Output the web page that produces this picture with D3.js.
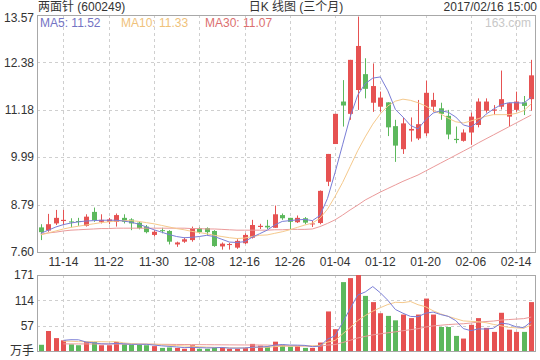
<!DOCTYPE html>
<html>
<head>
<meta charset="utf-8">
<script src="https://cdn.jsdelivr.net/npm/d3@7/dist/d3.min.js"></script>
<style>
  body { margin: 0; background: #fff; }
  svg text { font-family: 'Liberation Sans', Arial, 'Noto Sans CJK SC', sans-serif; font-size: 12px; fill: #333; }
</style>
</head>
<body>
<div id="kline-svg"></div>
<script>
// trading days shown on the chart (three months)
const dates = [
  '2016-11-09', '2016-11-10', '2016-11-11', '2016-11-14', '2016-11-15', '2016-11-16', '2016-11-17', '2016-11-18',
  '2016-11-21', '2016-11-22', '2016-11-23', '2016-11-24', '2016-11-25', '2016-11-28', '2016-11-29', '2016-11-30',
  '2016-12-01', '2016-12-02', '2016-12-05', '2016-12-06', '2016-12-07', '2016-12-08', '2016-12-09', '2016-12-12',
  '2016-12-13', '2016-12-14', '2016-12-15', '2016-12-16', '2016-12-19', '2016-12-20', '2016-12-21', '2016-12-22',
  '2016-12-23', '2016-12-26', '2016-12-27', '2016-12-28', '2016-12-29', '2016-12-30', '2017-01-03', '2017-01-04',
  '2017-01-05', '2017-01-06', '2017-01-09', '2017-01-10', '2017-01-11', '2017-01-12', '2017-01-13', '2017-01-16',
  '2017-01-17', '2017-01-18', '2017-01-19', '2017-01-20', '2017-01-23', '2017-01-24', '2017-01-25', '2017-01-26',
  '2017-02-03', '2017-02-06', '2017-02-07', '2017-02-08', '2017-02-09', '2017-02-10', '2017-02-13', '2017-02-14',
  '2017-02-15', '2017-02-16'
]

const opens = [
  8.22, 8.14, 8.32, 8.38, 8.37, 8.38, 8.26, 8.61, 8.36, 8.36, 8.36, 8.46, 8.42, 8.34, 8.24, 8.03,
  8.15, 8.13, 7.79, 7.86, 7.90, 8.20, 8.20, 8.13, 7.74, 7.78, 7.71, 7.82, 7.96, 8.23, 8.26, 8.21,
  8.53, 8.46, 8.35, 8.45, 8.30, 8.33, 9.37, 10.32, 11.39, 11.08, 11.68, 12.08, 11.36, 11.26, 11.37, 10.77,
  10.19, 10.66, 10.46, 10.59, 11.26, 11.22, 11.03, 10.45, 10.40, 10.61, 10.80, 11.16, 11.16, 11.26, 11.01, 11.18,
  11.37, 11.45
]
const highs = [
  8.30, 8.56, 8.66, 8.66, 8.45, 8.46, 8.55, 8.72, 8.55, 8.46, 8.57, 8.55, 8.45, 8.36, 8.28, 8.15,
  8.21, 8.15, 7.86, 7.96, 8.24, 8.22, 8.22, 8.15, 7.84, 7.83, 7.92, 8.07, 8.41, 8.31, 8.41, 8.77,
  8.57, 8.46, 8.52, 8.48, 8.39, 9.15, 10.07, 11.08, 11.93, 12.44, 13.53, 12.48, 12.35, 11.64, 11.37, 10.93,
  10.98, 10.99, 11.43, 11.92, 11.61, 11.36, 11.18, 10.76, 10.69, 11.11, 11.47, 11.47, 11.30, 12.17, 11.36, 11.64,
  11.53, 12.44
]
const lows = [
  7.90, 8.11, 8.28, 8.28, 8.22, 8.26, 8.24, 8.36, 8.32, 8.30, 8.24, 8.32, 8.15, 8.17, 8.07, 7.99,
  8.07, 7.79, 7.73, 7.83, 7.86, 8.07, 8.03, 7.73, 7.66, 7.66, 7.68, 7.80, 7.94, 8.18, 8.18, 8.21,
  8.41, 8.15, 8.33, 8.30, 8.23, 8.30, 9.26, 10.32, 10.76, 10.93, 11.18, 11.47, 11.13, 11.13, 10.52, 9.87,
  10.07, 10.38, 10.42, 10.52, 11.13, 10.93, 10.44, 10.34, 10.38, 10.30, 10.74, 11.11, 11.05, 11.19, 10.77, 11.13,
  11.05, 11.16
]
const closes = [
  8.10, 8.30, 8.46, 8.41, 8.35, 8.36, 8.49, 8.40, 8.41, 8.42, 8.53, 8.36, 8.32, 8.20, 8.10, 8.11,
  8.13, 7.86, 7.84, 7.92, 8.20, 8.10, 8.10, 7.75, 7.81, 7.80, 7.88, 8.03, 8.28, 8.26, 8.22, 8.55,
  8.45, 8.36, 8.46, 8.34, 8.32, 9.14, 10.07, 11.08, 11.29, 12.44, 12.79, 11.71, 11.78, 11.49, 10.74, 10.28,
  10.84, 10.70, 10.82, 11.61, 11.43, 11.08, 10.56, 10.42, 10.61, 11.01, 11.39, 11.39, 11.19, 11.45, 11.35, 11.39,
  11.28, 12.05
]

// price moving averages
const ma5 = [
  8.07, 8.15, 8.23, 8.29, 8.33, 8.36, 8.38, 8.39, 8.40, 8.40, 8.40, 8.38, 8.35, 8.30, 8.23, 8.16,
  8.10, 8.04, 7.99, 7.96, 7.97, 7.99, 8.02, 7.99, 7.92, 7.85, 7.84, 7.86, 7.97, 8.06, 8.15, 8.28,
  8.37, 8.39, 8.41, 8.42, 8.39, 8.52, 8.95, 9.60, 10.30, 11.00, 11.55, 11.84, 11.98, 12.01, 11.66, 11.19,
  11.00, 10.79, 10.70, 10.93, 11.10, 11.16, 11.12, 11.00, 10.80, 10.75, 10.88, 11.07, 11.20, 11.31, 11.36, 11.36,
  11.35, 11.50
]
const ma10 = [
  8.03, 8.08, 8.13, 8.18, 8.22, 8.25, 8.28, 8.31, 8.34, 8.36, 8.38, 8.39, 8.39, 8.37, 8.34, 8.31,
  8.27, 8.23, 8.19, 8.16, 8.12, 8.09, 8.06, 8.02, 7.99, 7.96, 7.94, 7.95, 7.99, 8.02, 8.03, 8.07,
  8.11, 8.16, 8.22, 8.28, 8.33, 8.45, 8.68, 9.00, 9.35, 9.75, 10.15, 10.50, 10.82, 11.08, 11.28, 11.40,
  11.45, 11.42, 11.36, 11.28, 11.16, 11.08, 10.97, 10.88, 10.85, 10.90, 10.96, 11.02, 11.06, 11.06, 11.06, 11.09,
  11.16, 11.33
]
const ma30 = [
  8.05, 8.08, 8.10, 8.13, 8.15, 8.16, 8.17, 8.18, 8.19, 8.19, 8.20, 8.20, 8.20, 8.20, 8.20, 8.20,
  8.20, 8.20, 8.20, 8.20, 8.19, 8.19, 8.18, 8.18, 8.17, 8.16, 8.15, 8.15, 8.15, 8.15, 8.15, 8.16,
  8.16, 8.17, 8.17, 8.17, 8.18, 8.24, 8.32, 8.41, 8.53, 8.66, 8.78, 8.91, 9.01, 9.11, 9.20, 9.29,
  9.38, 9.46, 9.54, 9.64, 9.74, 9.84, 9.94, 10.04, 10.14, 10.24, 10.35, 10.45, 10.55, 10.65, 10.75, 10.85,
  10.95, 11.05
]

// volume in 万手 and its moving averages
const volumes = [
  14, 45, 29, 24, 15, 13, 20, 20, 13, 13, 20, 15, 14, 13.5, 13, 11,
  7, 8, 7, 5, 13, 5, 5, 8, 9, 5, 5, 7, 16, 12, 10, 21,
  14, 10, 11, 7, 7, 19, 89, 49, 155, 164, 171, 124, 110, 85, 79, 69,
  82, 74, 82, 118, 82, 54, 54, 34, 28, 59, 74, 52, 43, 86, 48, 43,
  43, 110
]
const volMa5 = [
  null, null, null, 24.0, 25.4, 25.2, 20.2, 18.4, 16.2, 15.8, 17.2, 16.2, 15.0, 15.1, 15.1, 13.3,
  11.7, 10.4, 9.2, 7.6, 8.0, 7.6, 7.0, 7.2, 8.0, 6.4, 6.4, 6.8, 8.4, 9.0, 10.0, 13.2,
  14.6, 13.4, 13.2, 12.6, 9.8, 10.8, 26.6, 34.2, 63.8, 95.2, 125.8, 132.8, 145.0, 131.0, 114.0, 93.4,
  85.0, 77.8, 77.2, 85.0, 87.6, 82.0, 78.0, 68.4, 50.4, 45.8, 49.8, 49.4, 51.2, 62.8, 60.6, 54.4,
  52.6, 66.0
]
const volMa10 = [
  null, null, null, 22.0, 22.0, 21.0, 21.0, 21.0, 21.0, 20.6, 21.2, 18.2, 16.7, 15.7, 15.5, 15.3,
  14.0, 12.8, 12.2, 11.4, 10.7, 9.7, 8.8, 8.2, 7.8, 7.2, 7.0, 6.9, 7.8, 8.5, 8.2, 9.8,
  10.7, 10.9, 11.1, 11.3, 11.5, 12.7, 20.0, 23.7, 38.2, 52.5, 68.3, 79.7, 89.6, 97.4, 104.6, 109.6,
  108.9, 111.4, 104.1, 99.5, 90.5, 83.5, 77.9, 72.8, 67.7, 66.7, 65.9, 63.7, 59.8, 56.6, 53.2, 52.1,
  51.0, 58.6
]
const volMa30 = [
  null, null, null, 16.0, 16.0, 15.9, 15.9, 15.8, 15.8, 15.7, 15.7, 15.6, 15.5, 15.4, 15.3, 15.2,
  15.0, 14.9, 14.7, 14.6, 14.5, 14.3, 14.2, 14.0, 13.9, 13.8, 13.7, 13.6, 13.6, 13.5, 13.4, 12.6,
  12.1, 11.6, 11.5, 11.3, 10.8, 10.8, 13.3, 14.5, 19.0, 24.0, 29.3, 32.9, 36.2, 38.6, 41.0, 43.1,
  45.6, 47.9, 50.2, 53.9, 56.5, 58.0, 59.5, 60.5, 61.3, 63.0, 64.9, 66.3, 67.4, 69.5, 70.7, 71.8,
  72.8, 76.3
]

const priceTicks = [13.57, 12.38, 11.18, 9.99, 8.79, 7.60]
const volTicks = [171, 114, 57, 0]
const dateTicks = ['2016-11-14', '2016-11-22', '2016-11-30', '2016-12-08', '2016-12-16', '2016-12-26',
  '2017-01-04', '2017-01-12', '2017-01-20', '2017-02-06', '2017-02-14']

const WIDTH = 540
const HEIGHT = 360
const PRICE_BOX = { left: 37, right: 535, top: 15, bottom: 252 }
const VOL_BOX = { left: 37, right: 535, top: 275, bottom: 351 }

const RED = '#e65252'
const GREEN = '#5cb85c'
const MA5_COLOR = '#7a7ed6'
const MA10_COLOR = '#f5c98c'
const MA30_COLOR = '#eb9a9a'
const GRID_COLOR = '#cfcfcf'
const BORDER_COLOR = '#a8a8a8'
const BODY_WIDTH = 5

var svg = d3.select('#kline-svg')
  .append('svg')
  .attr('width', WIDTH)
  .attr('height', HEIGHT)

var xScale = d3.scaleBand()
  .domain(dates)
  .range([PRICE_BOX.left, PRICE_BOX.right])

var yPrice = d3.scaleLinear()
  .domain([7.60, 13.57])
  .range([PRICE_BOX.bottom, PRICE_BOX.top])

var yVol = d3.scaleLinear()
  .domain([0, 171])
  .range([VOL_BOX.bottom, VOL_BOX.top])

function cx (i) {
  return xScale(dates[i]) + xScale.bandwidth() / 2
}

/**
 * dashed grid + border for one panel
 */
function drawGrid (box, yScale, ticks) {
  var g = svg.append('g').attr('class', 'grid')
  g.selectAll('.hgrid')
    .data(ticks.filter(t => yScale(t) > box.top + 1 && yScale(t) < box.bottom - 1))
    .enter()
    .append('line')
    .attr('x1', box.left)
    .attr('x2', box.right)
    .attr('y1', d => Math.round(yScale(d)) + 0.5)
    .attr('y2', d => Math.round(yScale(d)) + 0.5)
    .attr('stroke', GRID_COLOR)
    .attr('stroke-dasharray', '3,3')
  g.selectAll('.vgrid')
    .data(dateTicks)
    .enter()
    .append('line')
    .attr('x1', d => Math.round(xScale(d) + xScale.bandwidth() / 2) + 0.5)
    .attr('x2', d => Math.round(xScale(d) + xScale.bandwidth() / 2) + 0.5)
    .attr('y1', box.top)
    .attr('y2', box.bottom)
    .attr('stroke', GRID_COLOR)
    .attr('stroke-dasharray', '3,3')
  svg.append('rect')
    .attr('x', box.left + 0.5)
    .attr('y', box.top + 0.5)
    .attr('width', box.right - box.left)
    .attr('height', box.bottom - box.top)
    .attr('fill', 'none')
    .attr('stroke', BORDER_COLOR)
}

drawGrid(PRICE_BOX, yPrice, priceTicks)
drawGrid(VOL_BOX, yVol, volTicks)

// price axis labels
var yAxis = svg.append('g')
  .attr('transform', 'translate(' + PRICE_BOX.left + ',0)')
  .call(d3.axisLeft(yPrice).tickValues(priceTicks).tickSize(0).tickPadding(3).tickFormat(d3.format('.2f')))
yAxis.select('.domain').remove()
yAxis.selectAll('.tick').filter(d => d === 13.57).select('text').attr('dy', '0.55em')

// volume axis labels
var vAxis = svg.append('g')
  .attr('transform', 'translate(' + VOL_BOX.left + ',0)')
  .call(d3.axisLeft(yVol).tickValues(volTicks).tickSize(0).tickPadding(3).tickFormat(d => d === 0 ? '万手' : d))
vAxis.select('.domain').remove()

// date labels
var xAxis = svg.append('g')
  .attr('transform', 'translate(0,' + PRICE_BOX.bottom + ')')
  .call(d3.axisBottom(xScale).tickValues(dateTicks).tickSize(0).tickPadding(5).tickFormat(d => d.slice(5)))
xAxis.select('.domain').remove()

// candles
var candles = svg.append('g').attr('class', 'candles')
  .selectAll('g')
  .data(dates.map((d, i) => i))
  .enter()
  .append('g')
  .attr('fill', i => closes[i] >= opens[i] ? RED : GREEN)
  .attr('stroke', i => closes[i] >= opens[i] ? RED : GREEN)

candles.append('line')
  .attr('x1', i => Math.round(cx(i)) + 0.5)
  .attr('x2', i => Math.round(cx(i)) + 0.5)
  .attr('y1', i => yPrice(highs[i]))
  .attr('y2', i => yPrice(lows[i]))

candles.append('rect')
  .attr('stroke', 'none')
  .attr('x', i => Math.round(cx(i)) + 0.5 - BODY_WIDTH / 2)
  .attr('y', i => yPrice(Math.max(opens[i], closes[i])))
  .attr('width', BODY_WIDTH)
  .attr('height', i => Math.max(1, yPrice(Math.min(opens[i], closes[i])) - yPrice(Math.max(opens[i], closes[i]))))

// volume bars
svg.append('g').attr('class', 'volume')
  .selectAll('rect')
  .data(dates.map((d, i) => i))
  .enter()
  .append('rect')
  .attr('x', i => Math.round(cx(i)) + 0.5 - BODY_WIDTH / 2)
  .attr('y', i => yVol(volumes[i]))
  .attr('width', BODY_WIDTH)
  .attr('height', i => yVol(0) - yVol(volumes[i]))
  .attr('fill', i => closes[i] >= opens[i] ? RED : GREEN)

/**
 * moving average line on a panel
 */
function drawLine (values, yScale, color) {
  var line = d3.line()
    .defined(d => d != null)
    .x((d, i) => cx(i))
    .y(d => yScale(d))
  svg.append('path')
    .datum(values)
    .attr('fill', 'none')
    .attr('stroke', color)
    .attr('stroke-width', 1)
    .attr('d', line)
}

drawLine(ma30, yPrice, MA30_COLOR)
drawLine(ma10, yPrice, MA10_COLOR)
drawLine(ma5, yPrice, MA5_COLOR)
drawLine(volMa30, yVol, MA30_COLOR)
drawLine(volMa10, yVol, MA10_COLOR)
drawLine(volMa5, yVol, MA5_COLOR)

// header
svg.append('text').attr('x', 38).attr('y', 11).text('两面针 (600249)')
svg.append('text').attr('x', 296).attr('y', 11).attr('text-anchor', 'middle').text('日K 线图 (三个月)')
svg.append('text').attr('x', 537).attr('y', 11).attr('text-anchor', 'end').text('2017/02/16 15:00')

// legend
svg.append('text').attr('x', 40).attr('y', 27).style('fill', '#7373c4').text('MA5: 11.52')
svg.append('text').attr('x', 121).attr('y', 27).style('fill', '#f0c27a').text('MA10: 11.33')
svg.append('text').attr('x', 205).attr('y', 27).style('fill', '#dc6f6f').text('MA30: 11.07')
svg.append('text').attr('x', 531).attr('y', 27).attr('text-anchor', 'end').style('fill', '#c8c8c8').text('163.com')
</script>
</body>
</html>
